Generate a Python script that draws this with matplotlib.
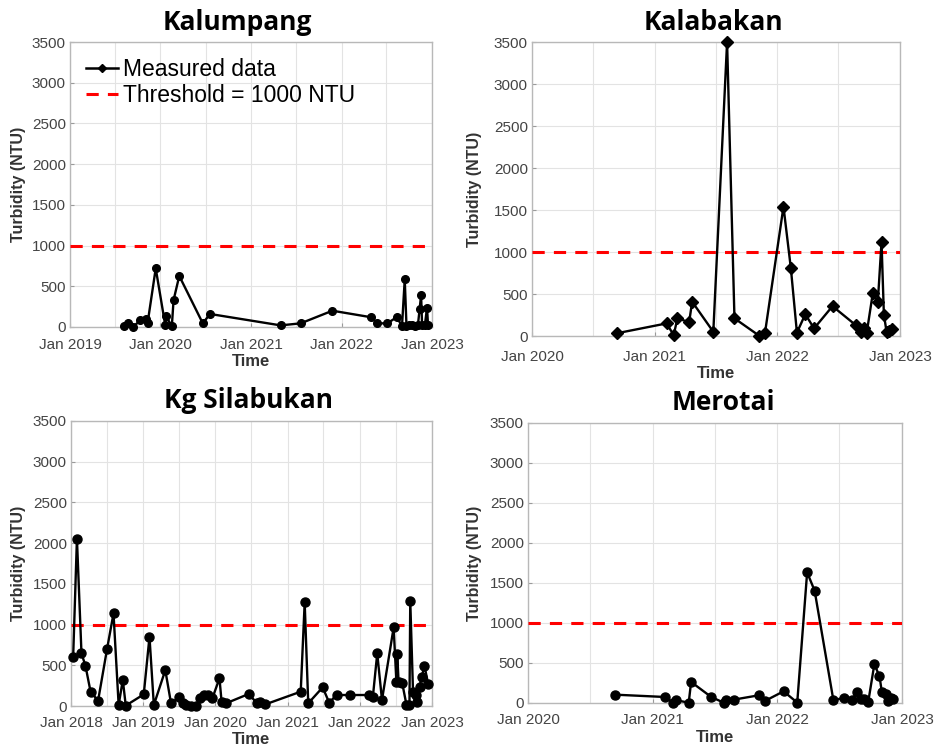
import numpy as np
import matplotlib.pyplot as plt
import matplotlib.dates as mdates
from matplotlib.lines import Line2D

# ---------------------------------------------------------------------------
# Data
# ---------------------------------------------------------------------------
kalumpang_dates = [
    '2019-08-08', '2019-08-25', '2019-09-13', '2019-10-12', '2019-11-03',
    '2019-11-10', '2019-12-13', '2020-01-20', '2020-01-24', '2020-02-16',
    '2020-02-23', '2020-03-17', '2020-06-20', '2020-07-19', '2021-04-30',
    '2021-07-20', '2021-11-25', '2022-04-30', '2022-05-26', '2022-07-05',
    '2022-08-11', '2022-09-02', '2022-09-13', '2022-09-20', '2022-10-01',
    '2022-10-12', '2022-10-25', '2022-11-05', '2022-11-12', '2022-11-18',
    '2022-11-22', '2022-12-03', '2022-12-12', '2022-12-16',
]
kalumpang_ntu = [
    10, 45, 5, 80, 95,
    45, 720, 30, 130, 10,
    330, 627, 45, 160, 20,
    45, 200, 120, 45, 45,
    120, 15, 585, 15, 20,
    20, 15, 20, 217, 393,
    20, 20, 237, 20,
]

kalabakan_dates = [
    '2020-09-09', '2021-02-05', '2021-02-26', '2021-03-09', '2021-04-13',
    '2021-04-22', '2021-06-24', '2021-08-04', '2021-08-26', '2021-11-07',
    '2021-11-25', '2022-01-19', '2022-02-10', '2022-02-28', '2022-03-25',
    '2022-04-20', '2022-06-14', '2022-08-22', '2022-09-06', '2022-09-17',
    '2022-09-24', '2022-10-12', '2022-10-27', '2022-11-07', '2022-11-14',
    '2022-11-22', '2022-11-29', '2022-12-09',
]
kalabakan_ntu = [
    32, 150, 10, 210, 165,
    408, 50, 3500, 210, 5,
    40, 1540, 805, 40, 260,
    90, 355, 130, 45, 90,
    40, 510, 410, 1120, 255,
    50, 60, 80,
]

silabukan_dates = [
    '2018-01-12', '2018-01-31', '2018-02-23', '2018-03-15', '2018-04-10',
    '2018-05-18', '2018-07-02', '2018-08-04', '2018-08-30', '2018-09-20',
    '2018-10-05', '2019-01-04', '2019-02-02', '2019-02-24', '2019-04-23',
    '2019-05-22', '2019-07-02', '2019-07-20', '2019-08-07', '2019-09-02',
    '2019-09-27', '2019-10-15', '2019-11-03', '2019-11-25', '2019-12-17',
    '2020-01-22', '2020-02-02', '2020-02-24', '2020-06-17', '2020-07-31',
    '2020-08-15', '2020-09-10', '2021-03-08', '2021-03-28', '2021-04-15',
    '2021-06-27', '2021-07-30', '2021-09-05', '2021-11-10', '2022-02-14',
    '2022-03-08', '2022-03-30', '2022-04-23', '2022-06-21', '2022-07-05',
    '2022-07-09', '2022-07-16', '2022-08-03', '2022-08-25', '2022-09-09',
    '2022-09-13', '2022-09-27', '2022-10-12', '2022-10-19', '2022-10-30',
    '2022-11-10', '2022-11-24', '2022-12-13',
]
silabukan_ntu = [
    605, 2057, 646, 495, 176,
    65, 695, 1137, 12, 320,
    5, 143, 850, 12, 440,
    33, 105, 33, 12, 5,
    5, 95, 135, 135, 95,
    340, 45, 33, 147, 33,
    53, 20, 176, 1272, 33,
    229, 41, 135, 135, 135,
    115, 646, 74, 965, 290,
    638, 298, 286, 12, 12,
    1292, 176, 135, 53, 237,
    360, 490, 266,
]

merotai_dates = [
    '2020-09-13', '2021-02-06', '2021-02-28', '2021-03-11', '2021-04-16',
    '2021-04-23', '2021-06-21', '2021-07-27', '2021-08-04', '2021-08-26',
    '2021-11-07', '2021-11-25', '2022-01-19', '2022-02-28', '2022-03-29',
    '2022-04-20', '2022-06-14', '2022-07-16', '2022-08-08', '2022-08-22',
    '2022-09-02', '2022-09-13', '2022-09-24', '2022-10-12', '2022-10-27',
    '2022-11-03', '2022-11-14', '2022-11-22', '2022-11-29', '2022-12-06',
]
merotai_ntu = [
    104, 75, 5, 33, 5,
    263, 75, 5, 42, 42,
    96, 25, 146, 5, 1633,
    1403, 33, 67, 33, 138,
    54, 54, 12, 485, 334,
    138, 117, 21, 67, 54,
]

threshold = 1000

# ---------------------------------------------------------------------------
# Figure
# ---------------------------------------------------------------------------
W, H = 935, 749
fig = plt.figure(figsize=(W / 100, H / 100), dpi=100)

tick_col = '#444444'
label_col = '#333333'


def px_axes(left, top, right, bottom):
    return fig.add_axes([left / W, 1 - bottom / H, (right - left) / W, (bottom - top) / H])


def panel(box, title, title_xy, dates, ntu, start_year, marker, ms, ylab_x, xlab_y, xpad):
    ax = px_axes(*box)
    d = np.array(dates, dtype='datetime64[D]')
    ax.plot(d, ntu, color='black', lw=1.7, marker=marker, ms=ms,
            clip_on=False, zorder=4)
    ax.axhline(threshold, color='red', ls=(0, (4, 3)), lw=2.2, zorder=3)

    ax.set_xlim(np.datetime64(f'{start_year}-01-01'), np.datetime64('2023-01-01'))
    ax.set_ylim(0, 3500)
    ax.set_yticks(np.arange(0, 3501, 500))
    ax.xaxis.set_major_locator(mdates.YearLocator())
    ax.xaxis.set_major_formatter(mdates.DateFormatter('Jan %Y'))
    ax.xaxis.set_minor_locator(mdates.MonthLocator(bymonth=[7]))
    ax.grid(True, which='both', color='#e3e3e3', lw=0.8)
    ax.set_axisbelow(True)

    for s in ax.spines.values():
        s.set_color('#b8b8b8')
        s.set_linewidth(1.0)
    ax.tick_params(which='both', direction='in', length=3, color='#9a9a9a',
                   labelcolor=tick_col, labelsize=11)
    ax.tick_params(axis='x', pad=xpad)
    ax.tick_params(axis='y', pad=3)
    ax.tick_params(which='minor', length=0)
    for lab in ax.get_xticklabels() + ax.get_yticklabels():
        lab.set_fontfamily('Liberation Sans')

    fig.text(title_xy[0] / W, 1 - title_xy[1] / H, title, ha='center', va='center',
             fontsize=19, fontweight='bold', family='Open Sans')
    fig.text(ylab_x / W, 1 - (box[1] + box[3]) / 2 / H, 'Turbidity (NTU)', rotation=90,
             ha='center', va='center', fontsize=11.5, fontweight='bold',
             color=label_col, family='Liberation Sans')
    fig.text((box[0] + box[2]) / 2 / W, 1 - xlab_y / H, 'Time', ha='center', va='center',
             fontsize=12, fontweight='bold', color=label_col, family='Liberation Sans')
    return ax


ax1 = panel((70, 42, 432, 327), 'Kalumpang', (237, 22),
            kalumpang_dates, kalumpang_ntu, 2019, 'o', 5.5, 19, 362, 8)
panel((532, 42, 900, 336), 'Kalabakan', (713, 22),
      kalabakan_dates, kalabakan_ntu, 2020, 'D', 6, 474, 373, 10)
panel((71, 421, 432, 706), 'Kg Silabukan', (248, 401),
      silabukan_dates, silabukan_ntu, 2018, 'o', 6.5, 19, 740, 7)
panel((528, 423, 902, 703), 'Merotai', (723, 402),
      merotai_dates, merotai_ntu, 2020, 'o', 6.5, 474, 737, 7)

# legend of the first panel uses a diamond marker like the original
leg_handles = [
    Line2D([], [], color='black', lw=1.8, marker='D', ms=4),
    Line2D([], [], color='red', ls=(0, (4, 3)), lw=2.2),
]
ax1.legend(leg_handles, ['Measured data', 'Threshold = 1000 NTU'], loc='upper left',
           frameon=False, handlelength=1.4, handletextpad=0.2,
           labelspacing=0.15, borderaxespad=0.4, borderpad=0.3,
           prop={'family': 'Liberation Sans', 'size': 16.5})

fig.savefig('out.png', dpi=100)
